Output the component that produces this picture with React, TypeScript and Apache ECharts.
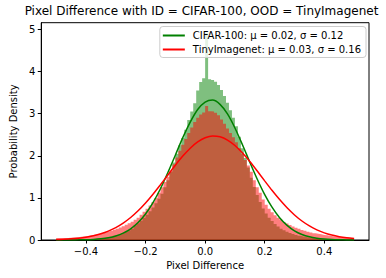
import React, { useEffect, useRef } from "react";
import * as echarts from "echarts";

const BIN_START = -0.5;
const BIN_WIDTH = 0.01;

const cifarHist = [
  0.003, 0.003, 0.004, 0.005, 0.006, 0.007, 0.008, 0.01, 0.012, 0.014,
  0.017, 0.02, 0.024, 0.029, 0.035, 0.043, 0.053, 0.065, 0.08, 0.098,
  0.118, 0.14, 0.165, 0.195, 0.23, 0.27, 0.35, 0.4, 0.46, 0.53,
  0.6, 0.68, 0.77, 0.87, 0.98, 1.1, 1.25, 1.42, 1.62, 1.84,
  2.05, 2.25, 2.42, 2.62, 2.85, 3.05, 3.25, 3.55, 3.75, 3.84,
  4.92, 3.82, 3.8, 3.76, 3.68, 3.56, 3.42, 3.26, 3.08, 2.9,
  2.7, 2.45, 2.18, 1.95, 1.72, 1.48, 1.26, 1.07, 0.9, 0.75,
  0.63, 0.53, 0.45, 0.38, 0.32, 0.27, 0.23, 0.195, 0.165, 0.14,
  0.12, 0.1, 0.085, 0.072, 0.06, 0.05, 0.042, 0.035, 0.029, 0.024,
  0.02, 0.017, 0.014, 0.012, 0.01, 0.008, 0.007, 0.006, 0.005, 0.004,
];

const tinyHist = [
  0.04, 0.042, 0.045, 0.049, 0.054, 0.06, 0.066, 0.073, 0.081, 0.09,
  0.1, 0.11, 0.122, 0.135, 0.15, 0.166, 0.183, 0.202, 0.222, 0.245,
  0.27, 0.297, 0.327, 0.36, 0.396, 0.435, 0.478, 0.53, 0.6, 0.67,
  0.74, 0.82, 0.9, 1.0, 1.12, 1.25, 1.38, 1.5, 1.64, 1.8,
  1.96, 2.12, 2.26, 2.4, 2.54, 2.67, 2.8, 2.9, 2.98, 3.03,
  3.18, 3.06, 3.05, 3.02, 2.96, 2.86, 2.76, 2.65, 2.54, 2.44,
  2.32, 2.18, 2.05, 1.9, 1.77, 1.62, 1.42, 1.25, 1.12, 0.96,
  0.84, 0.74, 0.66, 0.59, 0.53, 0.48, 0.43, 0.39, 0.355, 0.32,
  0.29, 0.265, 0.24, 0.218, 0.198, 0.18, 0.163, 0.148, 0.134, 0.121,
  0.11, 0.1, 0.09, 0.082, 0.074, 0.067, 0.061, 0.055, 0.05, 0.046,
];

const curveX = [
  -0.5, -0.475, -0.45, -0.425, -0.4, -0.375, -0.35, -0.325, -0.3, -0.275,
  -0.25, -0.225, -0.2, -0.175, -0.15, -0.125, -0.1, -0.075, -0.05, -0.025,
  0, 0.025, 0.05, 0.075, 0.1, 0.125, 0.15, 0.175, 0.2, 0.225,
  0.25, 0.275, 0.3, 0.325, 0.35, 0.375, 0.4, 0.425, 0.45, 0.475, 0.5,
];
const cifarPdf = [
  0.0003, 0.0007, 0.0016, 0.0034, 0.0073, 0.0147, 0.0287, 0.0533, 0.095, 0.162,
  0.264, 0.414, 0.618, 0.888, 1.217, 1.602, 2.014, 2.43, 2.8, 3.099,
  3.275, 3.322, 3.22, 2.993, 2.66, 2.267, 1.847, 1.444, 1.078, 0.773,
  0.529, 0.348, 0.218, 0.1315, 0.0757, 0.0418, 0.022, 0.0112, 0.0054, 0.0025, 0.0011,
];
const tinyPdf = [
  0.0102, 0.0169, 0.0274, 0.0433, 0.0665, 0.1003, 0.147, 0.2107, 0.295, 0.4014,
  0.534, 0.6936, 0.879, 1.087, 1.312, 1.545, 1.776, 1.992, 2.18, 2.328,
  2.427, 2.469, 2.451, 2.374, 2.245, 2.071, 1.864, 1.638, 1.404, 1.175,
  0.96, 0.765, 0.595, 0.451, 0.334, 0.242, 0.17, 0.117, 0.0786, 0.0516, 0.033,
];

const xTicks = [-0.4, -0.2, 0, 0.2, 0.4];
const yTicks = [0, 1, 2, 3, 4, 5];

const cifarName = "CIFAR-100: \u03bc = 0.02, \u03c3 = 0.12";
const tinyName = "TinyImagenet: \u03bc = 0.03, \u03c3 = 0.16";
const titleText = "Pixel Difference with ID = CIFAR-100, OOD = TinyImagenet";

const FONT = "DejaVu Sans";

function stepData(hist: number[]) {
  const d: number[][] = hist.map((v, i) => [BIN_START + i * BIN_WIDTH, v]);
  d.push([BIN_START + hist.length * BIN_WIDTH, hist[hist.length - 1]]);
  return d;
}

export default function App() {
  const ref = useRef<HTMLDivElement>(null);
  useEffect(() => {
    document.body.style.margin = "0";
    const chart = echarts.init(ref.current!, null, { renderer: "svg" });
    const fmt = (v: number) =>
      (v < -1e-9 ? "\u2212" : "") + Math.abs(v).toFixed(1);
    chart.setOption({
      animation: false,
      textStyle: { fontFamily: FONT },
      title: {
        text: titleText,
        left: 201.5,
        textAlign: "center",
        top: 5,
        padding: 0,
        textStyle: { fontFamily: FONT, fontSize: 12, fontWeight: "normal", color: "#000" },
      },
      legend: {
        data: [cifarName, tinyName],
        orient: "vertical",
        right: 20,
        top: 26.5,
        padding: [3, 5, 2, 3],
        itemGap: 2,
        itemWidth: 22,
        itemHeight: 2,
        icon: "rect",
        borderColor: "#cccccc",
        borderWidth: 1,
        borderRadius: 3,
        backgroundColor: "rgba(255,255,255,0.8)",
        textStyle: { fontFamily: FONT, fontSize: 10, color: "#000", lineHeight: 12, padding: [0, 0, 0, 3] },
      },
      grid: {
        left: 34,
        right: 17,
        top: 22.7,
        bottom: 38,
        show: true,
        borderColor: "#000",
        borderWidth: 1,
        backgroundColor: "transparent",
      },
      xAxis: {
        type: "value",
        min: -0.55,
        max: 0.55,
        name: "Pixel Difference",
        nameLocation: "middle",
        nameGap: 20,
        nameTextStyle: { fontFamily: FONT, fontSize: 10, color: "#000" },
        axisLine: { show: true, onZero: false, lineStyle: { color: "#000", width: 1 } },
        axisTick: { show: true, length: 3.5, customValues: xTicks, lineStyle: { color: "#000" } },
        axisLabel: { customValues: xTicks, formatter: fmt, fontFamily: FONT, fontSize: 10, color: "#000", margin: 6 },
        splitLine: { show: false },
      },
      yAxis: {
        type: "value",
        min: 0,
        max: 5.16,
        name: "Probability Density",
        nameLocation: "middle",
        nameGap: 21,
        nameTextStyle: { fontFamily: FONT, fontSize: 10, color: "#000" },
        axisLine: { show: true, onZero: false, lineStyle: { color: "#000", width: 1 } },
        axisTick: { show: true, length: 3.5, customValues: yTicks, lineStyle: { color: "#000" } },
        axisLabel: { customValues: yTicks, fontFamily: FONT, fontSize: 10, color: "#000", margin: 6 },
        splitLine: { show: false },
      },
      series: [
        {
          name: "cifarHist",
          type: "line",
          step: "end",
          symbol: "none",
          silent: true,
          data: stepData(cifarHist),
          lineStyle: { width: 0, opacity: 0 },
          areaStyle: { color: "rgba(0,128,0,0.5)", opacity: 1 },
          z: 1,
        },
        {
          name: "tinyHist",
          type: "line",
          step: "end",
          symbol: "none",
          silent: true,
          data: stepData(tinyHist),
          lineStyle: { width: 0, opacity: 0 },
          areaStyle: { color: "rgba(255,0,0,0.5)", opacity: 1 },
          z: 2,
        },
        {
          name: cifarName,
          type: "line",
          smooth: 0.3,
          symbol: "none",
          color: "#008000",
          lineStyle: { color: "#008000", width: 1.5 },
          data: curveX.map((x, i) => [x, cifarPdf[i]]),
          z: 3,
        },
        {
          name: tinyName,
          type: "line",
          smooth: 0.3,
          symbol: "none",
          color: "#ff0000",
          lineStyle: { color: "#ff0000", width: 1.5 },
          data: curveX.map((x, i) => [x, tinyPdf[i]]),
          z: 4,
        },
      ],
    });
    return () => chart.dispose();
  }, []);
  return (
    <div
      ref={ref}
      style={{ position: "absolute", left: 0, top: 0, width: 386, height: 278 }}
    />
  );
}
